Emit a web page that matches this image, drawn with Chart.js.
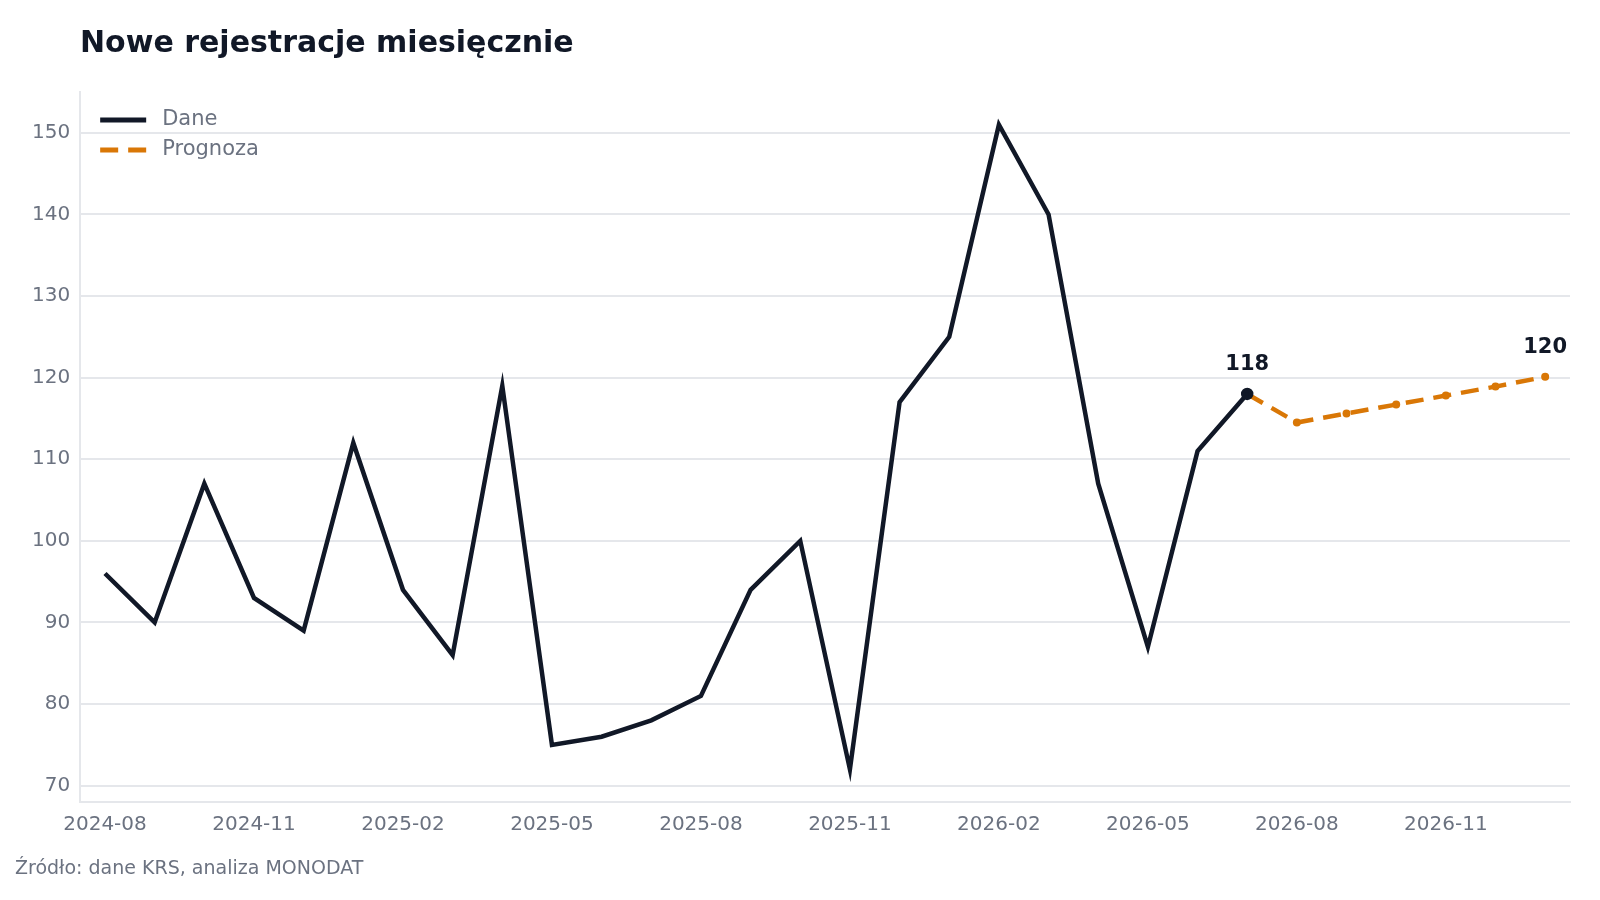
<!DOCTYPE html>
<html><head><meta charset="utf-8">
<script src="https://cdn.jsdelivr.net/npm/chart.js@4"></script>
<style>
body{margin:0;background:#fff;font-family:"DejaVu Sans",sans-serif;}
#wrap{position:absolute;left:0;top:0;width:1600px;height:900px;}
#title{position:absolute;left:80px;top:24px;font-size:30px;font-weight:bold;color:#111827;}
#src{position:absolute;left:15px;top:856px;font-size:19px;color:#6b7280;}
</style></head><body>
<div id="wrap"><canvas id="c" width="1600" height="900"></canvas></div>
<div id="title">Nowe rejestracje miesięcznie</div>
<div id="src">Źródło: dane KRS, analiza MONODAT</div>
<script>
const categories=["2024-08","2024-09","2024-10","2024-11","2024-12","2025-01","2025-02","2025-03","2025-04","2025-05","2025-06","2025-07","2025-08","2025-09","2025-10","2025-11","2025-12","2026-01","2026-02","2026-03","2026-04","2026-05","2026-06","2026-07","2026-08","2026-09","2026-10","2026-11","2026-12","2027-01"];
const actual=[96,90,107,93,89,112,94,86,119,75,76,78,81,94,100,72,117,125,151,140,107,87,111,118,null,null,null,null,null,null];
const forecast=[null,null,null,null,null,null,null,null,null,null,null,null,null,null,null,null,null,null,null,null,null,null,null,118,114.5,115.6,116.7,117.8,118.9,120.1];
const yTicks=[70,80,90,100,110,120,130,140,150];
const labelPts=[{ds:0,i:23,t:"118"},{ds:1,i:29,t:"120"}];
const legendItems=[{t:"Dane",c:"#111827",dash:[]},{t:"Prognoza",c:"#d97706",dash:[18,10]}];
const annot={id:'annot',afterDatasetsDraw(ch){const c=ch.ctx;c.save();c.font='bold 21px "DejaVu Sans"';c.fillStyle='#111827';c.textAlign='center';
labelPts.forEach(p=>{const e=ch.getDatasetMeta(p.ds).data[p.i];c.fillText(p.t,e.x,e.y-24);});
const a=ch.chartArea;c.textAlign='left';c.textBaseline='middle';c.font='21px "DejaVu Sans"';
legendItems.forEach((l,k)=>{const y=a.top+28+k*30;c.strokeStyle=l.c;c.lineWidth=5;c.setLineDash(l.dash);c.beginPath();c.moveTo(a.left+20,y);c.lineTo(a.left+66,y);c.stroke();c.setLineDash([]);c.fillStyle='#6b7280';c.fillText(l.t,a.left+82,y);});
c.restore();}};
new Chart(document.getElementById('c'),{type:'line',
data:{labels:categories,datasets:[
{label:'Dane',data:actual,borderColor:'#111827',backgroundColor:'#111827',borderWidth:4.5,pointRadius:actual.map((v,i)=>i===23?4:0),pointHoverRadius:0,tension:0},
{label:'Prognoza',data:forecast,borderColor:'#d97706',backgroundColor:'#d97706',borderWidth:4.5,borderDash:[18,10],pointRadius:forecast.map((v,i)=>i===23?0:4),pointBorderWidth:0,tension:0}
]},
options:{responsive:false,animation:false,devicePixelRatio:1,
layout:{padding:{top:92,right:30,bottom:60,left:22}},
plugins:{legend:{display:false},tooltip:{enabled:false}},
scales:{x:{grid:{display:false},border:{color:'#e5e7eb',width:2},offset:true,
ticks:{autoSkip:false,maxRotation:0,font:{size:20,family:'DejaVu Sans'},color:'#6b7280',callback(v,i){return i%3===0?categories[i]:'';}}},
y:{min:68,max:155,afterBuildTicks(s){s.ticks=yTicks.map(v=>({value:v}));},grid:{color:'#e5e7eb',lineWidth:2,drawTicks:false},border:{color:'#e5e7eb',width:2},
ticks:{padding:10,font:{size:20,family:'DejaVu Sans'},color:'#6b7280'}}}}
,plugins:[annot]});
</script></body></html>
